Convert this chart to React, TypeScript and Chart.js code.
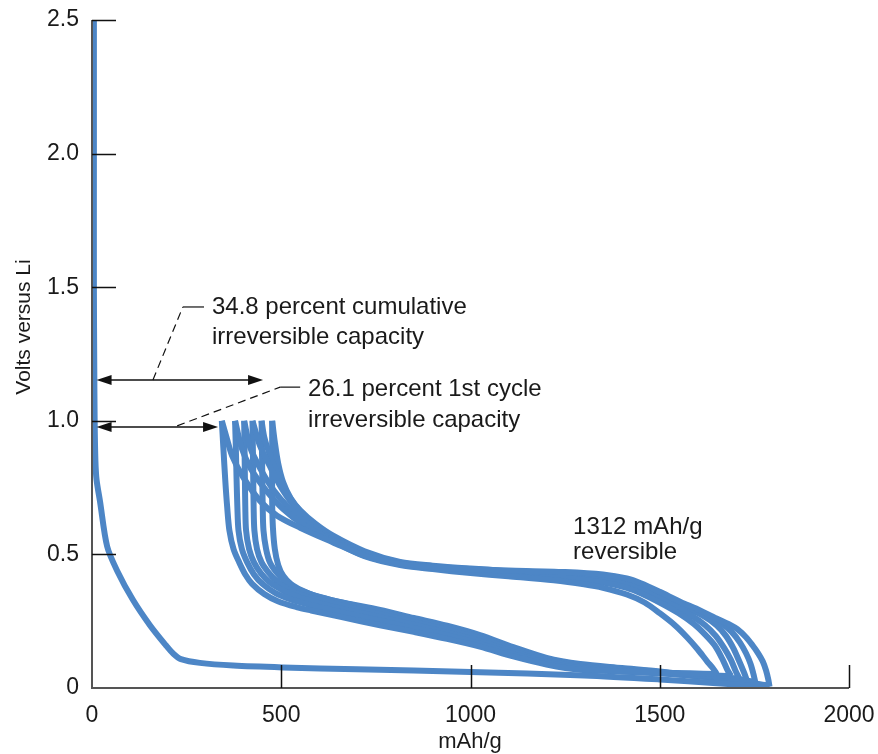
import React, { useEffect, useRef } from 'react';
import { Chart, registerables } from 'chart.js';

Chart.register(...registerables);

// ---- axis ticks ----
const xTicks = [0, 500, 1000, 1500, 2000];
const yTicks = [0, 0.5, 1.0, 1.5, 2.0, 2.5];
const yTickLabels = ['0', '0.5', '1.0', '1.5', '2.0', '2.5'];

// ---- curves: [mAh/g, volts] ----
const firstDischarge: number[][] = [
  [5, 2.5], [5, 2.0], [5, 1.5], [6, 1.2], [7, 1.0], [9, 0.85], [12, 0.78], [21, 0.7],
  [40, 0.53], [66, 0.44], [108, 0.33], [153, 0.235], [195, 0.16], [215, 0.128], [235, 0.108],
  [285, 0.094], [373, 0.084], [505, 0.077], [700, 0.07], [1000, 0.06], [1300, 0.047],
  [1500, 0.032], [1650, 0.018], [1790, 0.005],
];

const charge1: number[][] = [
  [1790, 0.005], [1787, 0.03], [1781, 0.065], [1772, 0.1], [1760, 0.13], [1745, 0.16], [1728, 0.19],
  [1705, 0.22], [1685, 0.237], [1650, 0.26], [1600, 0.295], [1555, 0.322], [1500, 0.36],
  [1450, 0.392], [1413, 0.41], [1350, 0.425], [1250, 0.434], [1100, 0.44], [1000, 0.444],
  [900, 0.452], [814, 0.463], [720, 0.495], [637, 0.545], [550, 0.6], [489, 0.645], [444, 0.7],
  [399, 0.79], [370, 0.87], [355, 0.94], [343, 1.0],
];

const discharge2: number[][] = [
  [343, 1.0], [347, 0.9], [352, 0.78], [357, 0.68], [363, 0.59], [374, 0.52], [389, 0.47],
  [405, 0.425], [423, 0.39], [455, 0.352], [491, 0.325], [540, 0.303], [579, 0.29], [660, 0.265],
  [761, 0.235], [850, 0.21], [938, 0.184], [1025, 0.155], [1113, 0.118], [1201, 0.088],
  [1290, 0.068], [1400, 0.062], [1500, 0.057], [1580, 0.055], [1651, 0.052],
];

const charge2: number[][] = [
  [1651, 0.052], [1640, 0.075], [1625, 0.1], [1600, 0.145], [1572, 0.19], [1540, 0.235],
  [1500, 0.28], [1460, 0.32], [1413, 0.35], [1350, 0.375], [1300, 0.388], [1220, 0.403],
  [1100, 0.418], [1000, 0.43], [900, 0.445], [814, 0.46], [720, 0.493], [637, 0.55], [560, 0.61],
  [505, 0.67], [460, 0.74], [420, 0.82], [395, 0.9], [378, 1.0],
];

const discharge3: number[][] = [
  [378, 1.0], [380, 0.9], [382, 0.78], [384, 0.68], [387, 0.59], [396, 0.52], [410, 0.47],
  [428, 0.425], [450, 0.39], [485, 0.355], [525, 0.332], [579, 0.31], [660, 0.283], [761, 0.252],
  [850, 0.224], [938, 0.197], [1025, 0.165], [1113, 0.127], [1201, 0.095], [1290, 0.074],
  [1400, 0.062], [1500, 0.055], [1600, 0.048], [1688, 0.045],
];

const charge3: number[][] = [
  [1688, 0.045], [1678, 0.07], [1665, 0.11], [1645, 0.16], [1620, 0.2], [1590, 0.24], [1550, 0.28],
  [1500, 0.32], [1450, 0.355], [1413, 0.375], [1350, 0.395], [1250, 0.412], [1100, 0.425],
  [1000, 0.435], [900, 0.448], [814, 0.463], [720, 0.5], [637, 0.555], [570, 0.615], [520, 0.675],
  [480, 0.74], [445, 0.82], [418, 0.9], [402, 1.0],
];

const discharge4: number[][] = [
  [402, 1.0], [403, 0.9], [404, 0.78], [405, 0.68], [407, 0.59], [415, 0.52], [428, 0.47],
  [446, 0.43], [470, 0.395], [505, 0.365], [545, 0.34], [600, 0.318], [670, 0.293], [761, 0.265],
  [850, 0.237], [938, 0.207], [1025, 0.175], [1113, 0.135], [1201, 0.1], [1290, 0.079],
  [1400, 0.066], [1500, 0.056], [1600, 0.045], [1710, 0.036],
];

const charge4: number[][] = [
  [1710, 0.036], [1700, 0.065], [1688, 0.105], [1670, 0.15], [1648, 0.195], [1620, 0.235],
  [1585, 0.27], [1540, 0.305], [1500, 0.335], [1450, 0.37], [1413, 0.388], [1350, 0.405],
  [1250, 0.42], [1100, 0.43], [1000, 0.44], [900, 0.452], [814, 0.466], [720, 0.505], [637, 0.56],
  [580, 0.62], [535, 0.68], [500, 0.75], [470, 0.83], [443, 0.91], [424, 1.0],
];

const discharge5: number[][] = [
  [424, 1.0], [425, 0.9], [426, 0.78], [427, 0.68], [429, 0.59], [436, 0.52], [448, 0.47],
  [465, 0.435], [488, 0.4], [520, 0.368], [560, 0.345], [615, 0.325], [680, 0.302], [761, 0.276],
  [850, 0.247], [938, 0.217], [1025, 0.185], [1113, 0.143], [1201, 0.105], [1290, 0.084],
  [1400, 0.069], [1500, 0.058], [1600, 0.045], [1730, 0.03],
];

const charge5: number[][] = [
  [1730, 0.03], [1722, 0.06], [1710, 0.1], [1694, 0.15], [1675, 0.195], [1650, 0.235],
  [1615, 0.27], [1570, 0.3], [1520, 0.335], [1480, 0.365], [1430, 0.395], [1350, 0.415],
  [1250, 0.427], [1100, 0.436], [1000, 0.445], [900, 0.455], [814, 0.469], [720, 0.508],
  [637, 0.565], [585, 0.615], [545, 0.67], [515, 0.73], [490, 0.8], [468, 0.88], [455, 0.94],
  [448, 1.0],
];

const discharge6: number[][] = [
  [448, 1.0], [449, 0.9], [450, 0.78], [451, 0.68], [453, 0.59], [460, 0.52], [470, 0.47],
  [486, 0.435], [507, 0.403], [537, 0.375], [575, 0.352], [630, 0.33], [690, 0.31],
  [761, 0.285], [850, 0.255], [938, 0.225], [1025, 0.192], [1113, 0.149], [1201, 0.11],
  [1290, 0.087], [1400, 0.072], [1500, 0.06], [1600, 0.045], [1700, 0.032], [1752, 0.024],
];

const charge6: number[][] = [
  [1752, 0.024], [1748, 0.05], [1740, 0.09], [1728, 0.13], [1712, 0.17], [1690, 0.21],
  [1665, 0.24], [1620, 0.27], [1570, 0.305], [1520, 0.34], [1470, 0.375], [1420, 0.402],
  [1350, 0.42], [1250, 0.43], [1100, 0.438], [1000, 0.447], [900, 0.458], [814, 0.472],
  [720, 0.512], [637, 0.57], [590, 0.615], [550, 0.665], [525, 0.71], [505, 0.77], [492, 0.84],
  [483, 0.92], [476, 1.0],
];

const discharge7: number[][] = [
  [476, 1.0], [476, 0.85], [476, 0.7], [478, 0.6], [483, 0.52], [492, 0.46], [505, 0.42],
  [525, 0.39], [555, 0.365], [590, 0.345], [655, 0.322], [761, 0.292], [850, 0.262], [938, 0.233],
  [1025, 0.198], [1113, 0.153], [1201, 0.113], [1290, 0.09], [1400, 0.075], [1500, 0.062],
  [1600, 0.045], [1700, 0.028], [1782, 0.01],
];

const curves = [
  firstDischarge, charge1, discharge2, charge2, discharge3, charge3, discharge4, charge4,
  discharge5, charge5, discharge6, charge6, discharge7,
];

// ---- annotations (data units) ----
const arrowCumulative = { from: 12, to: 452, v: 1.153 };
const arrowFirstCycle = { from: 12, to: 333, v: 0.977 };
const leaderCumulative = [[161, 1.153], [240, 1.426], [296, 1.426]];
const leaderFirstCycle = [[225, 0.981], [497, 1.126], [550, 1.126]];
const textCumulative = { x: 317, v: [1.426, 1.314], lines: ['34.8 percent cumulative', 'irreversible capacity'] };
const textFirstCycle = { x: 571, v: [1.119, 1.003], lines: ['26.1 percent 1st cycle', 'irreversible capacity'] };
const textReversible = { x: 1271, v: [0.603, 0.509], lines: ['1312 mAh/g', 'reversible'] };
const xTitle = 'mAh/g';
const yTitle = 'Volts versus Li';

const BLUE = '#4d86c6';
const FONT = '"Liberation Sans", Arial, Helvetica, sans-serif';
const INK = '#1a1a1a';

const overlay = {
  id: 'overlay',
  afterDatasetsDraw(chart: any) {
    const { ctx, chartArea } = chart;
    const x = chart.scales.x;
    const y = chart.scales.y;
    const { left, right, top, bottom } = chartArea;
    ctx.save();

    // axis lines
    ctx.strokeStyle = '#555';
    ctx.lineWidth = 2;
    ctx.setLineDash([]);
    ctx.beginPath();
    ctx.moveTo(left, top);
    ctx.lineTo(left, bottom);
    ctx.lineTo(right, bottom);
    ctx.stroke();

    // inward ticks
    ctx.strokeStyle = '#111';
    ctx.lineWidth = 1.5;
    ctx.beginPath();
    yTicks.forEach((v) => {
      if (v === 0) return;
      const py = Math.round(y.getPixelForValue(v)) + 0.5;
      ctx.moveTo(left, py);
      ctx.lineTo(left + 24, py);
    });
    xTicks.forEach((v) => {
      if (v === 0) return;
      const px = Math.round(x.getPixelForValue(v)) + 0.5;
      ctx.moveTo(px, bottom);
      ctx.lineTo(px, bottom - 23);
    });
    ctx.stroke();

    // double arrows
    const drawArrow = (a: { from: number; to: number; v: number }) => {
      const x1 = x.getPixelForValue(a.from);
      const x2 = x.getPixelForValue(a.to);
      const py = y.getPixelForValue(a.v);
      const hl = 15;
      const hw = 5;
      ctx.strokeStyle = '#111';
      ctx.fillStyle = '#111';
      ctx.lineWidth = 1.5;
      ctx.beginPath();
      ctx.moveTo(x1 + hl - 2, py);
      ctx.lineTo(x2 - hl + 2, py);
      ctx.stroke();
      ctx.beginPath();
      ctx.moveTo(x1, py);
      ctx.lineTo(x1 + hl, py - hw);
      ctx.lineTo(x1 + hl, py + hw);
      ctx.closePath();
      ctx.fill();
      ctx.beginPath();
      ctx.moveTo(x2, py);
      ctx.lineTo(x2 - hl, py - hw);
      ctx.lineTo(x2 - hl, py + hw);
      ctx.closePath();
      ctx.fill();
    };
    drawArrow(arrowCumulative);
    drawArrow(arrowFirstCycle);

    // leader lines
    const drawLeader = (pts: number[][]) => {
      const p = pts.map(([a, b]) => [x.getPixelForValue(a), y.getPixelForValue(b)]);
      ctx.strokeStyle = '#111';
      ctx.lineWidth = 1.2;
      ctx.setLineDash([8, 5]);
      ctx.beginPath();
      ctx.moveTo(p[0][0], p[0][1]);
      ctx.lineTo(p[1][0], p[1][1]);
      ctx.stroke();
      ctx.setLineDash([]);
      ctx.beginPath();
      ctx.moveTo(p[1][0], p[1][1]);
      ctx.lineTo(p[2][0], p[2][1]);
      ctx.stroke();
    };
    drawLeader(leaderCumulative);
    drawLeader(leaderFirstCycle);

    // annotation texts
    ctx.fillStyle = INK;
    ctx.font = `24px ${FONT}`;
    ctx.textAlign = 'left';
    ctx.textBaseline = 'middle';
    [textCumulative, textFirstCycle, textReversible].forEach((t) => {
      t.lines.forEach((line, i) => {
        ctx.fillText(line, x.getPixelForValue(t.x), y.getPixelForValue(t.v[i]));
      });
    });

    // axis titles
    ctx.font = `22px ${FONT}`;
    ctx.textAlign = 'center';
    ctx.fillText(xTitle, 470, 742);
    ctx.font = `21px ${FONT}`;
    ctx.save();
    ctx.translate(24, 327);
    ctx.rotate(-Math.PI / 2);
    ctx.fillText(yTitle, 0, 0);
    ctx.restore();

    ctx.restore();
  },
};

export default function App() {
  const ref = useRef<HTMLCanvasElement>(null);
  useEffect(() => {
    if (!ref.current) return;
    const chart = new Chart(ref.current, {
      type: 'scatter',
      data: {
        datasets: curves.map((c) => ({
          data: c.map(([px, py]) => ({ x: px, y: py })),
          showLine: true,
          borderColor: BLUE,
          backgroundColor: BLUE,
          borderWidth: 6,
          borderJoinStyle: 'round' as const,
          pointRadius: 0,
          pointHoverRadius: 0,
          tension: 0.3,
          fill: false,
        })),
      },
      options: {
        animation: false,
        responsive: true,
        maintainAspectRatio: false,
        layout: { padding: { left: 0, top: 20, right: 29, bottom: 0 } },
        plugins: { legend: { display: false }, tooltip: { enabled: false } },
        scales: {
          x: {
            type: 'linear',
            min: 0,
            max: 2000,
            grid: { display: false, drawTicks: false },
            border: { display: false },
            afterBuildTicks: (s: any) => { s.ticks = xTicks.map((v) => ({ value: v })); },
            afterFit: (s: any) => {
              s.height = 66;
              s.paddingLeft = 0; s.paddingRight = 0; s.paddingTop = 0; s.paddingBottom = 0;
            },
            ticks: {
              autoSkip: false,
              maxRotation: 0,
              padding: 14,
              color: INK,
              font: { family: FONT, size: 23 },
              callback: (v: any) => String(v),
            },
          },
          y: {
            type: 'linear',
            min: 0,
            max: 2.5,
            grid: { display: false, drawTicks: false },
            border: { display: false },
            afterBuildTicks: (s: any) => { s.ticks = yTicks.map((v) => ({ value: v })); },
            afterFit: (s: any) => {
              s.width = 92;
              s.paddingLeft = 0; s.paddingRight = 0; s.paddingTop = 0; s.paddingBottom = 0;
            },
            ticks: {
              autoSkip: false,
              padding: 13,
              color: INK,
              font: { family: FONT, size: 23 },
              callback: (v: any) => {
                const i = yTicks.indexOf(Number(v));
                return i >= 0 ? yTickLabels[i] : '';
              },
            },
          },
        },
      },
      plugins: [overlay],
    });
    return () => chart.destroy();
  }, []);
  return (
    <div style={{ position: 'absolute', left: 0, top: 0, width: 878, height: 754 }}>
      <canvas ref={ref} />
    </div>
  );
}
